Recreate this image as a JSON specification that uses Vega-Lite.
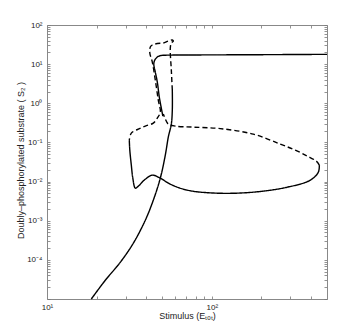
{
  "$schema": "https://vega.github.io/schema/vega-lite/v6.json",
  "width": 280,
  "height": 274,
  "autosize": {"type": "none"},
  "padding": {"left": 47, "top": 25, "right": 34, "bottom": 37},
  "background": "white",
  "config": {"view": {"stroke": null}, "font": "Liberation Sans"},
  "datasets": {
    "curves": [
      {"seg": "A", "style": "solid", "i": 1, "E": 18.57, "S2": 0.00001},
      {"seg": "A", "style": "solid", "i": 2, "E": 22.58, "S2": 0.0000301},
      {"seg": "A", "style": "solid", "i": 3, "E": 27.85, "S2": 0.0000869},
      {"seg": "A", "style": "solid", "i": 4, "E": 33.40, "S2": 0.000266},
      {"seg": "A", "style": "solid", "i": 5, "E": 39.49, "S2": 0.00103},
      {"seg": "A", "style": "solid", "i": 6, "E": 44.16, "S2": 0.00334},
      {"seg": "A", "style": "solid", "i": 7, "E": 48.69, "S2": 0.01222},
      {"seg": "A", "style": "solid", "i": 8, "E": 52.22, "S2": 0.0473},
      {"seg": "A", "style": "solid", "i": 9, "E": 54.45, "S2": 0.1368},
      {"seg": "A", "style": "solid", "i": 10, "E": 56.80, "S2": 0.2938},
      {"seg": "A", "style": "solid", "i": 11, "E": 57.59, "S2": 0.670},
      {"seg": "A", "style": "solid", "i": 12, "E": 57.59, "S2": 2.177},

      {"seg": "B", "style": "dashed", "i": 1, "E": 57.59, "S2": 2.177},
      {"seg": "B", "style": "dashed", "i": 2, "E": 56.80, "S2": 7.06},
      {"seg": "B", "style": "dashed", "i": 3, "E": 56.00, "S2": 25.81},
      {"seg": "B", "style": "dashed", "i": 4, "E": 56.80, "S2": 34.66},
      {"seg": "B", "style": "dashed", "i": 5, "E": 58.41, "S2": 38.96},
      {"seg": "B", "style": "dashed", "i": 6, "E": 57.59, "S2": 41.33},
      {"seg": "B", "style": "dashed", "i": 7, "E": 54.45, "S2": 38.96},
      {"seg": "B", "style": "dashed", "i": 8, "E": 50.79, "S2": 34.66},
      {"seg": "B", "style": "dashed", "i": 9, "E": 46.70, "S2": 33.63},
      {"seg": "B", "style": "dashed", "i": 10, "E": 43.55, "S2": 30.80},
      {"seg": "B", "style": "dashed", "i": 11, "E": 42.35, "S2": 27.37},
      {"seg": "B", "style": "dashed", "i": 12, "E": 42.06, "S2": 19.22},
      {"seg": "B", "style": "dashed", "i": 13, "E": 43.55, "S2": 11.32},
      {"seg": "B", "style": "dashed", "i": 14, "E": 45.41, "S2": 3.92},
      {"seg": "B", "style": "dashed", "i": 15, "E": 47.35, "S2": 1.208},
      {"seg": "B", "style": "dashed", "i": 16, "E": 48.69, "S2": 0.5957},
      {"seg": "B", "style": "dashed", "i": 17, "E": 46.70, "S2": 0.418},
      {"seg": "B", "style": "dashed", "i": 18, "E": 44.16, "S2": 0.3119},
      {"seg": "B", "style": "dashed", "i": 19, "E": 39.49, "S2": 0.2612},
      {"seg": "B", "style": "dashed", "i": 20, "E": 35.81, "S2": 0.2188},
      {"seg": "B", "style": "dashed", "i": 21, "E": 32.48, "S2": 0.1730},
      {"seg": "B", "style": "dashed", "i": 22, "E": 31.58, "S2": 0.1146},

      {"seg": "C", "style": "solid", "i": 1, "E": 31.58, "S2": 0.1146},
      {"seg": "C", "style": "solid", "i": 2, "E": 31.80, "S2": 0.0635},
      {"seg": "C", "style": "solid", "i": 3, "E": 32.48, "S2": 0.0263},
      {"seg": "C", "style": "solid", "i": 4, "E": 33.17, "S2": 0.01222},
      {"seg": "C", "style": "solid", "i": 5, "E": 34.35, "S2": 0.00678},
      {"seg": "C", "style": "solid", "i": 6, "E": 35.81, "S2": 0.00763},
      {"seg": "C", "style": "solid", "i": 7, "E": 39.49, "S2": 0.01151},
      {"seg": "C", "style": "solid", "i": 8, "E": 43.55, "S2": 0.01459},
      {"seg": "C", "style": "solid", "i": 9, "E": 48.69, "S2": 0.01222},
      {"seg": "C", "style": "solid", "i": 10, "E": 56.00, "S2": 0.00859},
      {"seg": "C", "style": "solid", "i": 11, "E": 71.02, "S2": 0.00603},
      {"seg": "C", "style": "solid", "i": 12, "E": 108.0, "S2": 0.00505},
      {"seg": "C", "style": "solid", "i": 13, "E": 178.6, "S2": 0.00536},
      {"seg": "C", "style": "solid", "i": 14, "E": 287.2, "S2": 0.00719},
      {"seg": "C", "style": "solid", "i": 15, "E": 396.0, "S2": 0.01086},
      {"seg": "C", "style": "solid", "i": 16, "E": 443.0, "S2": 0.01738},
      {"seg": "C", "style": "solid", "i": 17, "E": 449.2, "S2": 0.0263},

      {"seg": "D", "style": "dashed", "i": 1, "E": 449.2, "S2": 0.0263},
      {"seg": "D", "style": "dashed", "i": 2, "E": 430.7, "S2": 0.0333},
      {"seg": "D", "style": "dashed", "i": 3, "E": 379.7, "S2": 0.0447},
      {"seg": "D", "style": "dashed", "i": 4, "E": 321.1, "S2": 0.0635},
      {"seg": "D", "style": "dashed", "i": 5, "E": 260.4, "S2": 0.0906},
      {"seg": "D", "style": "dashed", "i": 6, "E": 178.6, "S2": 0.163},
      {"seg": "D", "style": "dashed", "i": 7, "E": 112.6, "S2": 0.2254},
      {"seg": "D", "style": "dashed", "i": 8, "E": 77.22, "S2": 0.2461},
      {"seg": "D", "style": "dashed", "i": 9, "E": 60.06, "S2": 0.2612},
      {"seg": "D", "style": "dashed", "i": 10, "E": 54.45, "S2": 0.2938},
      {"seg": "D", "style": "dashed", "i": 11, "E": 52.22, "S2": 0.3945},
      {"seg": "D", "style": "dashed", "i": 12, "E": 50.79, "S2": 0.5297},

      {"seg": "E", "style": "solid", "i": 1, "E": 500, "S2": 17.80},
      {"seg": "E", "style": "solid", "i": 2, "E": 171.2, "S2": 17.39},
      {"seg": "E", "style": "solid", "i": 3, "E": 85.17, "S2": 17.19},
      {"seg": "E", "style": "solid", "i": 4, "E": 52.22, "S2": 16.89},
      {"seg": "E", "style": "solid", "i": 5, "E": 48.69, "S2": 16.50},
      {"seg": "E", "style": "solid", "i": 6, "E": 46.70, "S2": 15.19},
      {"seg": "E", "style": "solid", "i": 7, "E": 45.09, "S2": 12.73},
      {"seg": "E", "style": "solid", "i": 8, "E": 44.47, "S2": 10.07},
      {"seg": "E", "style": "solid", "i": 9, "E": 45.41, "S2": 6.28},
      {"seg": "E", "style": "solid", "i": 10, "E": 46.70, "S2": 3.48},
      {"seg": "E", "style": "solid", "i": 11, "E": 48.02, "S2": 1.442},
      {"seg": "E", "style": "solid", "i": 12, "E": 49.38, "S2": 0.754},
      {"seg": "E", "style": "solid", "i": 13, "E": 50.43, "S2": 0.471}
    ]
  },
  "layer": [
    {
      "data": {"name": "curves"},
      "mark": {"type": "line", "color": "black", "strokeWidth": 1.4, "interpolate": "catmull-rom"},
      "encoding": {
        "x": {
          "field": "E", "type": "quantitative",
          "scale": {"type": "log", "domain": [10, 500], "nice": false},
          "axis": {
            "orient": "bottom",
            "values": [10, 20, 30, 40, 50, 60, 70, 80, 90, 100, 200, 300, 400, 500],
            "labelExpr": "datum.value == 10 ? '10¹' : datum.value == 100 ? '10²' : ''",
            "grid": false, "tickSize": -3, "tickColor": "#777", "tickWidth": 0.8,
            "domainColor": "#888", "domainWidth": 1,
            "labelFont": "Liberation Sans", "labelFontSize": 8, "labelColor": "#222",
            "labelPadding": 7, "labelFlush": false, "labelOverlap": false,
            "title": "Stimulus (Eₜₒₜ)", "titleFont": "Liberation Sans", "titleFontSize": 9,
            "titleFontWeight": "normal", "titleColor": "#222",
            "titleX": 140, "titleY": 16, "titleBaseline": "middle", "titleAlign": "center"
          }
        },
        "y": {
          "field": "S2", "type": "quantitative",
          "scale": {"type": "log", "domain": [0.00001, 100], "nice": false},
          "axis": {
            "orient": "left",
            "values": [0.00001, 0.00002, 0.00003, 0.00004, 0.00005, 0.00006, 0.00007, 0.00008, 0.00009,
                       0.0001, 0.0002, 0.0003, 0.0004, 0.0005, 0.0006, 0.0007, 0.0008, 0.0009,
                       0.001, 0.002, 0.003, 0.004, 0.005, 0.006, 0.007, 0.008, 0.009,
                       0.01, 0.02, 0.03, 0.04, 0.05, 0.06, 0.07, 0.08, 0.09,
                       0.1, 0.2, 0.3, 0.4, 0.5, 0.6, 0.7, 0.8, 0.9,
                       1, 2, 3, 4, 5, 6, 7, 8, 9,
                       10, 20, 30, 40, 50, 60, 70, 80, 90, 100],
            "labelExpr": "(abs(log(datum.value)/LN10 - round(log(datum.value)/LN10)) > 0.001 || datum.value < 0.00002) ? '' : '10' + (round(log(datum.value)/LN10) == 2 ? '²' : round(log(datum.value)/LN10) == 1 ? '¹' : round(log(datum.value)/LN10) == 0 ? '⁰' : '⁻' + (round(log(datum.value)/LN10) == -1 ? '¹' : round(log(datum.value)/LN10) == -2 ? '²' : round(log(datum.value)/LN10) == -3 ? '³' : '⁴'))",
            "grid": false, "tickSize": -3, "tickColor": "#777", "tickWidth": 0.8,
            "domainColor": "#888", "domainWidth": 1,
            "labelFont": "Liberation Sans", "labelFontSize": 8, "labelColor": "#222",
            "labelPadding": 8, "labelFlush": false, "labelOverlap": false,
            "title": "Doubly–phosphorylated substrate ( S₂ )", "titleFont": "Liberation Sans", "titleFontSize": 9,
            "titleFontWeight": "normal", "titleColor": "#222",
            "titleX": -27, "titleY": 135, "titleAngle": -90, "titleBaseline": "middle", "titleAlign": "center"
          }
        },
        "detail": {"field": "seg", "type": "nominal"},
        "order": {"field": "i", "type": "quantitative"},
        "strokeDash": {
          "field": "style", "type": "nominal",
          "scale": {"domain": ["solid", "dashed"], "range": [[1, 0], [5, 3]]},
          "legend": null
        }
      }
    },
    {
      "data": {"name": "curves"},
      "mark": {"type": "point", "opacity": 0},
      "encoding": {
        "x": {
          "field": "E", "type": "quantitative",
          "scale": {"type": "log", "domain": [10, 500], "nice": false},
          "axis": {
            "orient": "top",
            "values": [10, 20, 30, 40, 50, 60, 70, 80, 90, 100, 200, 300, 400, 500],
            "labels": false, "title": null, "grid": false,
            "tickSize": -3, "tickColor": "#777", "tickWidth": 0.8,
            "domainColor": "#888", "domainWidth": 1
          }
        },
        "y": {
          "field": "S2", "type": "quantitative",
          "scale": {"type": "log", "domain": [0.00001, 100], "nice": false},
          "axis": {
            "orient": "right",
            "values": [0.00001, 0.00002, 0.00003, 0.00004, 0.00005, 0.00006, 0.00007, 0.00008, 0.00009,
                       0.0001, 0.0002, 0.0003, 0.0004, 0.0005, 0.0006, 0.0007, 0.0008, 0.0009,
                       0.001, 0.002, 0.003, 0.004, 0.005, 0.006, 0.007, 0.008, 0.009,
                       0.01, 0.02, 0.03, 0.04, 0.05, 0.06, 0.07, 0.08, 0.09,
                       0.1, 0.2, 0.3, 0.4, 0.5, 0.6, 0.7, 0.8, 0.9,
                       1, 2, 3, 4, 5, 6, 7, 8, 9,
                       10, 20, 30, 40, 50, 60, 70, 80, 90, 100],
            "labels": false, "title": null, "grid": false,
            "tickSize": -3, "tickColor": "#777", "tickWidth": 0.8,
            "domainColor": "#888", "domainWidth": 1
          }
        }
      }
    }
  ],
  "resolve": {"axis": {"x": "independent", "y": "independent"}}
}
